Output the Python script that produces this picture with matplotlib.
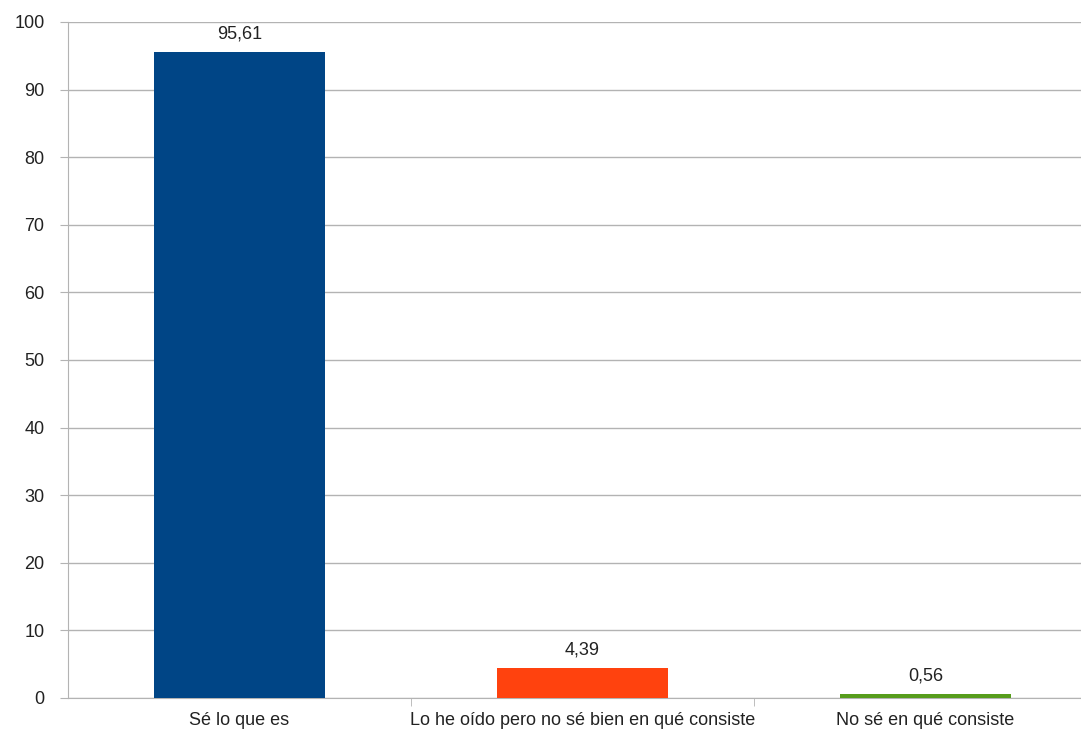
import matplotlib.pyplot as plt
from matplotlib.ticker import FixedLocator

plt.rcParams['font.family'] = ['Liberation Sans', 'DejaVu Sans']

# data
categories = ['Sé lo que es', 'Lo he oído pero no sé bien en qué consiste', 'No sé en qué consiste']
values = [95.61, 4.39, 0.56]
labels = ['95,61', '4,39', '0,56']
colors = ['#004586', '#ff420e', '#579d1c']

fig = plt.figure(figsize=(10.81, 7.36), dpi=100)
# axes reaches past the right edge, like the original
ax = fig.add_axes([68/1081, 38/736, 1029/1081, 676/736])

x = list(range(len(categories)))
ax.bar(x, values, width=0.5, color=colors, zorder=3)

for xi, v, lab in zip(x, values, labels):
    ax.text(xi, v + 1.4, lab, ha='center', va='bottom', fontsize=13, color='#222222')

ax.set_xlim(-0.5, 2.5)
ax.set_ylim(0, 100)
ax.set_yticks(range(0, 101, 10))
ax.set_xticks(x)
ax.set_xticklabels(categories, fontsize=13, color='#222222')
ax.xaxis.set_minor_locator(FixedLocator([0.5, 1.5]))
ax.tick_params(axis='x', which='major', length=0, pad=10)
ax.tick_params(axis='x', which='minor', length=6, color='#b3b3b3')
ax.tick_params(axis='y', length=6, color='#b3b3b3', labelsize=13, labelcolor='#222222', pad=11)

ax.grid(axis='y', color='#b3b3b3', linewidth=1, zorder=0)
for s in ['top', 'right']:
    ax.spines[s].set_visible(False)
ax.spines['left'].set_color('#b3b3b3')
ax.spines['bottom'].set_color('#b3b3b3')

fig.savefig('out.png', dpi=100)
